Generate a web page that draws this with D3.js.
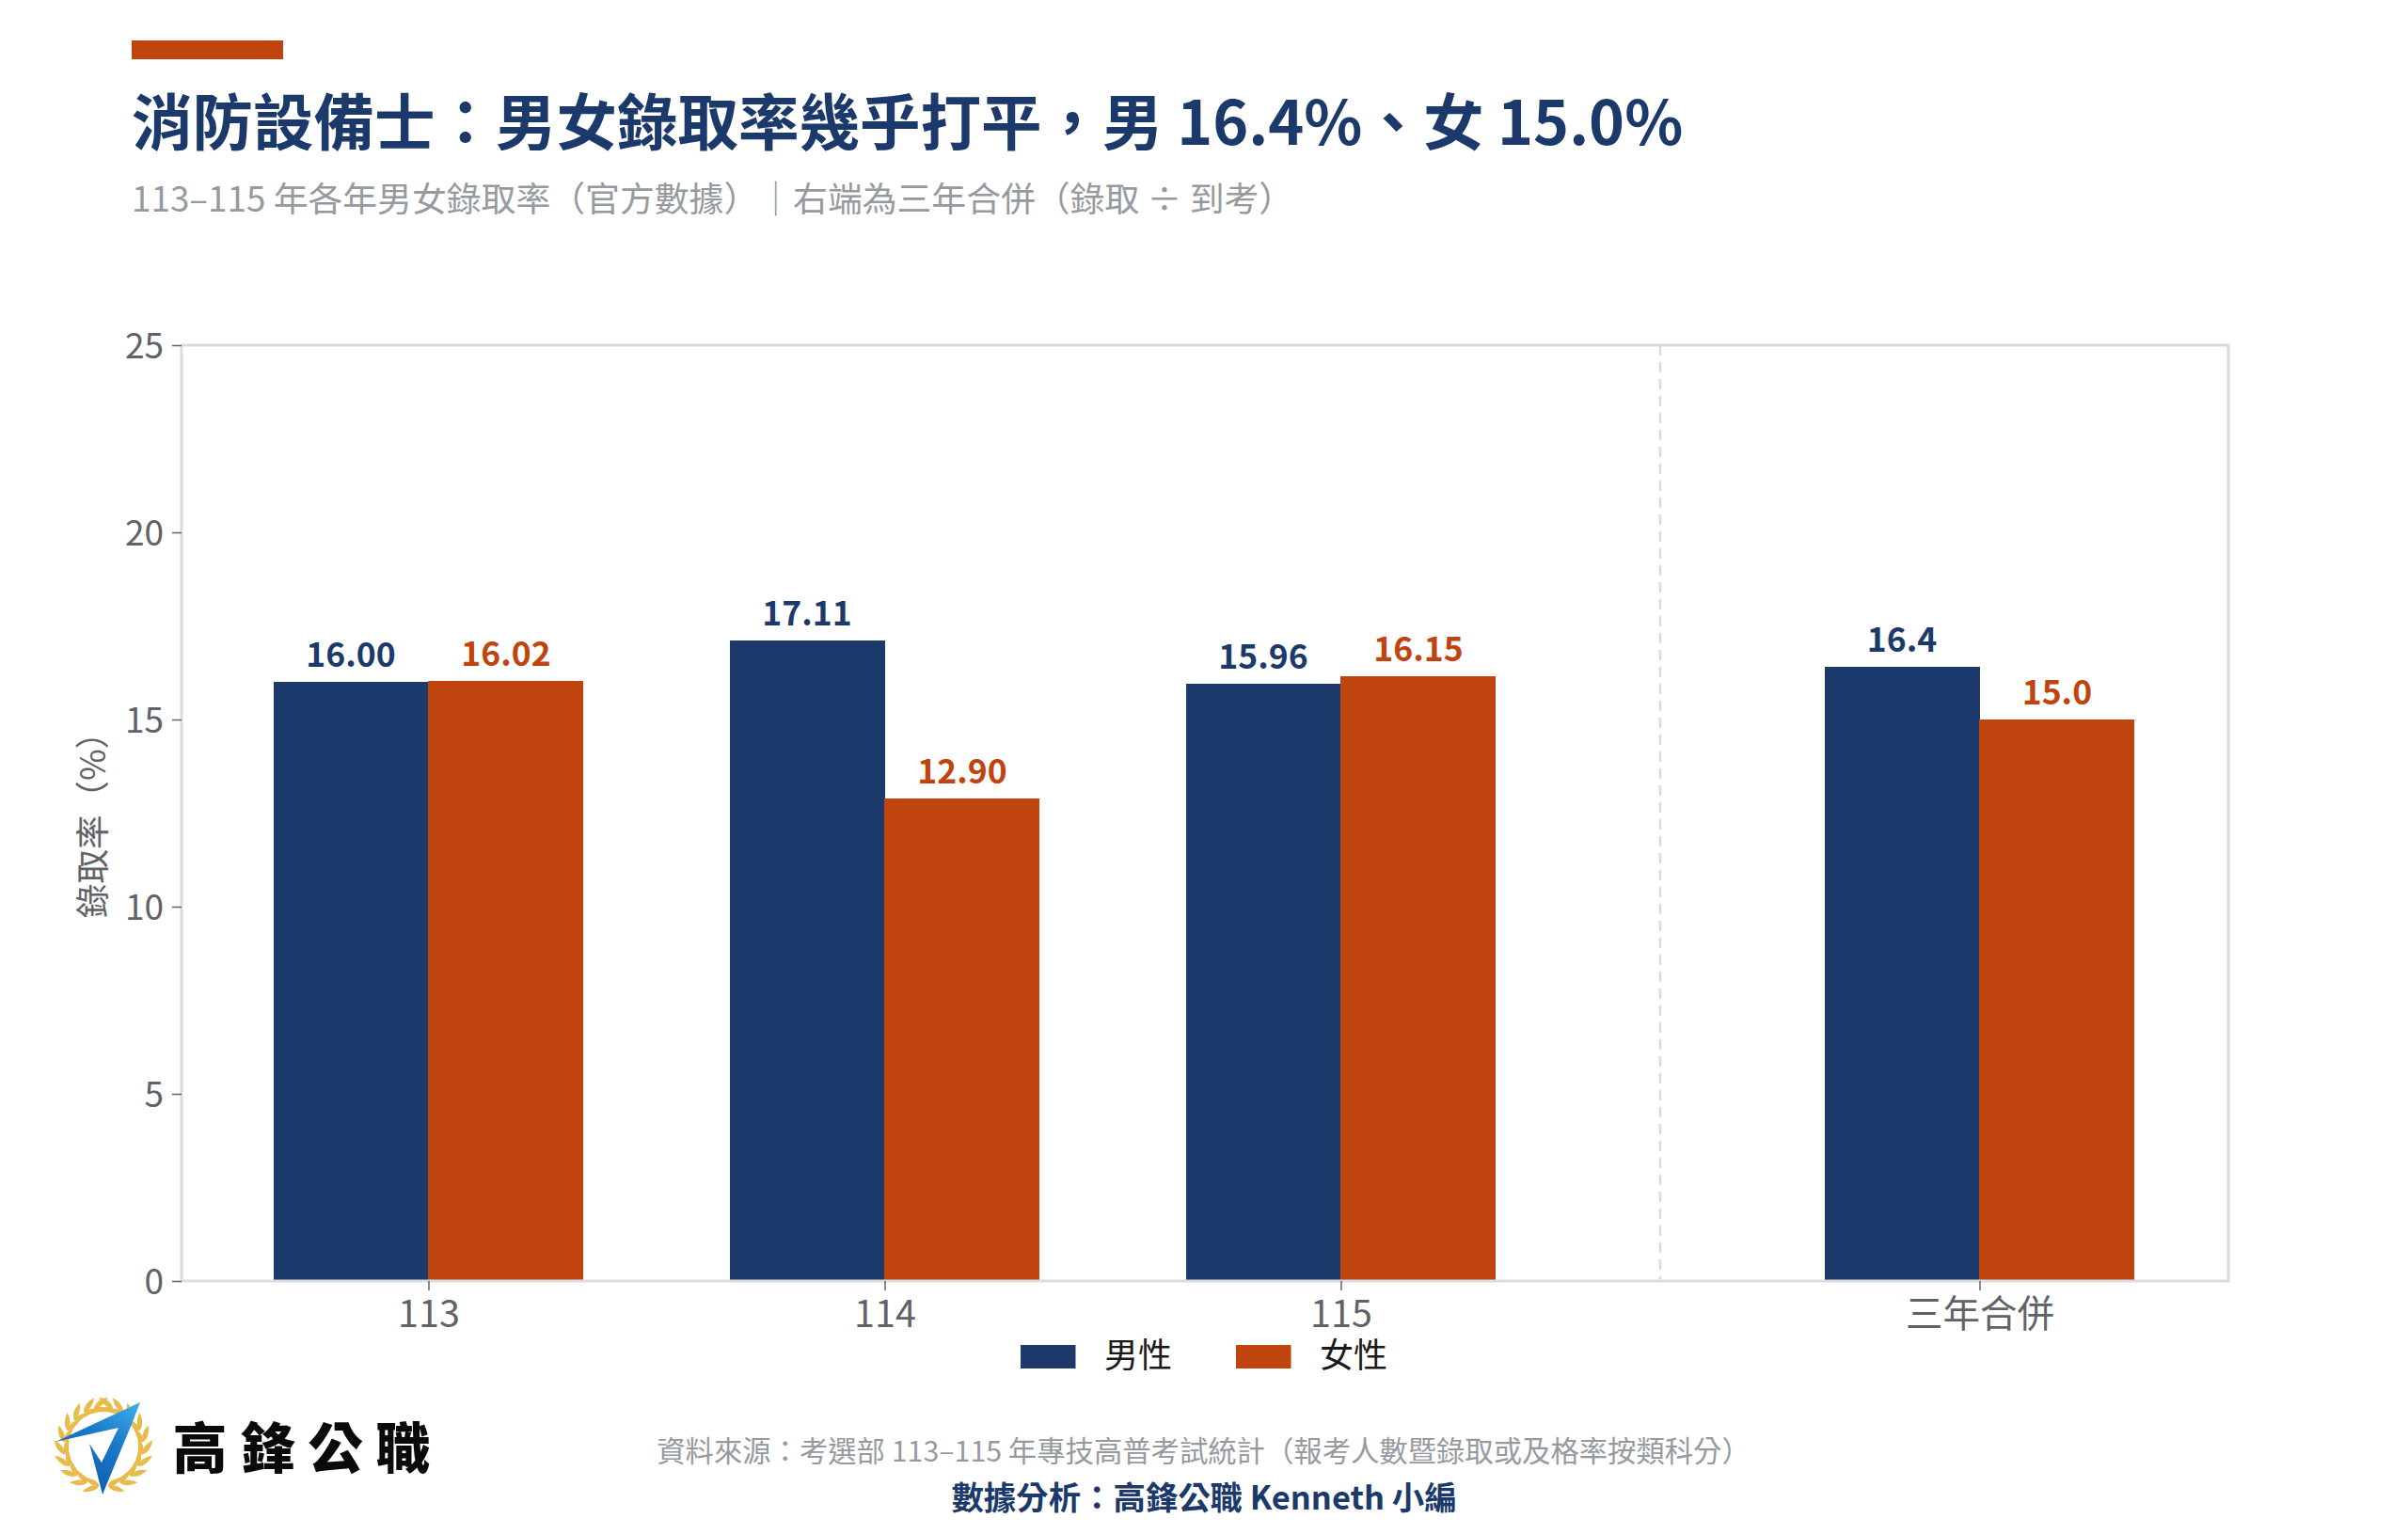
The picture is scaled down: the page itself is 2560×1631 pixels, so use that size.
<!DOCTYPE html>
<html lang="zh-Hant">
<head>
<meta charset="utf-8">
<title>消防設備士錄取率</title>
<script src="https://cdn.jsdelivr.net/npm/d3@7"></script>
<style>
  html, body { margin: 0; padding: 0; background: #fff; }
  svg { display: block; }
  text { font-family: "Noto Sans CJK TC", "Noto Sans", sans-serif; }
</style>
</head>
<body>
<svg id="chart" width="2560" height="1631"></svg>
<script>
// Pass rates (%) per exam year, plus the pooled three-year figure
const categories = ["113", "114", "115", "三年合併"];
const slots = [0, 1, 2, 3.4];
const maleRates = [16.00, 17.11, 15.96, 16.4];
const femaleRates = [16.02, 12.90, 16.15, 15.0];
const maleLabels = ["16.00", "17.11", "15.96", "16.4"];
const femaleLabels = ["16.02", "12.90", "16.15", "15.0"];
const yTicks = [0, 5, 10, 15, 20, 25];
const dividerSlot = 2.7;

const NAVY = "#1b3a6b";
const RUST = "#c0440e";
const FRAME = "#d9dcdf";
const TICK_TEXT = "#5f6368";
const MUTED = "#959a9f";

const svg = d3.select("#chart");
const plot = { left: 193, right: 2369, top: 367, bottom: 1362 };

const x = d3.scaleLinear().domain([-0.5412, 3.9454]).range([plot.left, plot.right]);
const y = d3.scaleLinear().domain([0, 25]).range([plot.bottom, plot.top]);
const barWidth = x(0.34) - x(0);

// Header
svg.append("rect").attr("x", 140).attr("y", 43).attr("width", 161).attr("height", 20).attr("fill", RUST);
svg.append("text").attr("x", 140).attr("y", 154)
  .attr("font-size", 64.5).attr("font-weight", 700).attr("fill", NAVY)
  .text("消防設備士：男女錄取率幾乎打平，男 16.4%、女 15.0%");
svg.append("text").attr("x", 140).attr("y", 225)
  .attr("font-size", 36.85).attr("fill", MUTED)
  .text("113–115 年各年男女錄取率（官方數據）｜右端為三年合併（錄取 ÷ 到考）");

// Bars
const rows = categories.map((c, i) => ({
  category: c, slot: slots[i],
  male: maleRates[i], female: femaleRates[i],
  maleLabel: maleLabels[i], femaleLabel: femaleLabels[i]
}));

const groups = svg.append("g").selectAll("g").data(rows).join("g");
groups.append("rect").attr("shape-rendering", "crispEdges")
  .attr("x", d => x(d.slot) - barWidth).attr("width", barWidth + 0.5)
  .attr("y", d => y(d.male)).attr("height", d => y(0) - y(d.male)).attr("fill", NAVY);
groups.append("rect").attr("shape-rendering", "crispEdges")
  .attr("x", d => x(d.slot)).attr("width", barWidth)
  .attr("y", d => y(d.female)).attr("height", d => y(0) - y(d.female)).attr("fill", RUST);
groups.append("text")
  .attr("x", d => x(d.slot) - barWidth / 2).attr("y", d => y(d.male) - 16)
  .attr("text-anchor", "middle").attr("font-size", 35.5).attr("font-weight", 700).attr("fill", NAVY)
  .text(d => d.maleLabel);
groups.append("text")
  .attr("x", d => x(d.slot) + barWidth / 2).attr("y", d => y(d.female) - 16)
  .attr("text-anchor", "middle").attr("font-size", 35.5).attr("font-weight", 700).attr("fill", RUST)
  .text(d => d.femaleLabel);

// Frame and year/pooled divider
svg.append("rect")
  .attr("x", plot.left).attr("y", plot.top)
  .attr("width", plot.right - plot.left).attr("height", plot.bottom - plot.top)
  .attr("fill", "none").attr("stroke", FRAME).attr("stroke-width", 3);
svg.append("line")
  .attr("x1", x(dividerSlot)).attr("x2", x(dividerSlot))
  .attr("y1", plot.top).attr("y2", plot.bottom)
  .attr("stroke", FRAME).attr("stroke-width", 2.5).attr("stroke-dasharray", "11 7");

// Axes
const yAxis = d3.axisLeft(y).tickValues(yTicks).tickSize(10).tickPadding(9);
const xAxis = d3.axisBottom(x).tickValues(slots)
  .tickFormat((d, i) => categories[i]).tickSize(10).tickPadding(11);

const yAxisG = svg.append("g").attr("transform", `translate(${plot.left},0)`).call(yAxis);
const xAxisG = svg.append("g").attr("transform", `translate(0,${plot.bottom})`).call(xAxis);
[yAxisG, xAxisG].forEach(axis => {
  axis.select(".domain").remove();
  axis.selectAll(".tick line").attr("stroke", TICK_TEXT).attr("stroke-width", 1.5);
  axis.selectAll(".tick text")
    .attr("font-family", '"Noto Sans CJK TC", sans-serif')
    .attr("fill", TICK_TEXT);
});
yAxisG.selectAll(".tick text").attr("font-size", 37).attr("y", 1.5);
xAxisG.selectAll(".tick text").attr("font-size", 39.5);

svg.append("text")
  .attr("transform", "translate(112,868) rotate(-90)")
  .attr("text-anchor", "middle").attr("font-size", 36.5).attr("fill", TICK_TEXT)
  .text("錄取率（%）");

// Legend
const legend = svg.append("g").selectAll("g")
  .data([{ name: "男性", color: NAVY, at: 1085 }, { name: "女性", color: RUST, at: 1314 }])
  .join("g").attr("transform", d => `translate(${d.at},0)`);
legend.append("rect").attr("y", 1430).attr("width", 58.5).attr("height", 25).attr("fill", d => d.color);
legend.append("text").attr("x", 89).attr("y", 1454)
  .attr("font-size", 36).attr("fill", "#1a1a1a").text(d => d.name);

// Footer
svg.append("text").attr("x", 1279.5).attr("y", 1554)
  .attr("text-anchor", "middle").attr("font-size", 30.35).attr("fill", MUTED)
  .text("資料來源：考選部 113–115 年專技高普考試統計（報考人數暨錄取或及格率按類科分）");
svg.append("text").attr("x", 1280).attr("y", 1604.5)
  .attr("text-anchor", "middle").attr("font-size", 34.4).attr("font-weight", 700).attr("fill", NAVY)
  .text("數據分析：高鋒公職 Kenneth 小編");

// Brand mark: laurel wreath with a blue check arrow
const brand = svg.append("g").attr("transform", "translate(110,1538)");
const defs = svg.append("defs");
const blue = defs.append("linearGradient").attr("id", "arrowBlue")
  .attr("x1", 0.3).attr("y1", 1).attr("x2", 0.8).attr("y2", 0);
blue.append("stop").attr("offset", 0).attr("stop-color", "#0d5cab");
blue.append("stop").attr("offset", 0.6).attr("stop-color", "#1a78c8");
blue.append("stop").attr("offset", 1).attr("stop-color", "#3aa6e6");

const leafSweep = [6, 24, 42, 60, 78, 96, 114, 132, 150, 166];
const leafPath = "M0,0 C5,-4 12,-3.5 19,0 C12,3.5 5,4 0,0 Z";
[1, -1].forEach(side => {
  const wreath = brand.append("g").attr("transform", `scale(${side},1)`);
  leafSweep.forEach(a => {
    const r = a * Math.PI / 180;
    const px = -42 * Math.sin(r), py = 42 * Math.cos(r);
    [-24, 24].forEach(splay => {
      wreath.append("path").attr("d", leafPath).attr("fill", "#e8bb4a")
        .attr("transform", `translate(${px},${py}) rotate(${a - 180 + splay})`);
    });
  });
});
brand.append("circle").attr("r", 37).attr("fill", "#fff");
brand.append("path").attr("fill", "url(#arrowBlue)")
  .attr("d", "M39,-47 L-51,-5 L16,-20 L-2,17 L-15,-3 L-1,51 L30,-24 Z");
svg.append("text").attr("x", 183.5).attr("y", 1561)
  .attr("font-size", 58).attr("font-weight", 900).attr("letter-spacing", 14).attr("fill", "#0a0a0a")
  .text("高鋒公職");
</script>
</body>
</html>
